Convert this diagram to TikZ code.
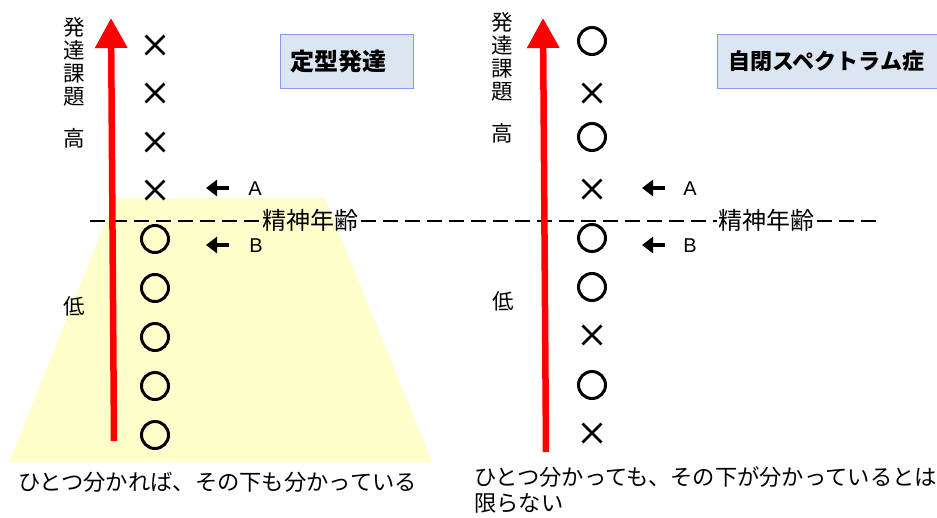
\documentclass[tikz,border=0pt]{standalone}
\usepackage{fontspec}
\setmainfont{Noto Sans CJK JP}
\newfontfamily\latinfont{Liberation Sans}
\usetikzlibrary{arrows.meta,shapes.misc}
\definecolor{trapfill}{HTML}{FFFFCC}
\definecolor{boxfill}{HTML}{DCE6F2}
\definecolor{boxline}{HTML}{8A98EC}
\definecolor{axisred}{HTML}{FF0000}
\tikzset{
  okmark/.style={circle, draw, line width=3, minimum size=27, inner sep=0pt},
  ngmark/.style={cross out, draw, line width=2.8, minimum size=16, inner sep=0pt},
  axisarrow/.style={axisred, line width=6.5, -{Triangle[width=31pt,length=30pt]}},
  pointer/.style={line width=4.5, -{Triangle[width=16pt,length=11pt]}},
  letterlbl/.style={font=\latinfont\fontsize{20}{20}\selectfont, inner sep=0pt},
  jplbl/.style={font=\fontsize{21.5}{23}\selectfont, inner sep=0pt, align=center},
  agelbl/.style={font=\fontsize{24}{24}\selectfont, inner sep=0pt},
  bottomlbl/.style={font=\fontsize{22.3}{26}\selectfont, inner sep=0pt, align=left},
  titlebox/.style={draw=boxline, fill=boxfill, line width=1.2, anchor=north west, inner sep=0pt},
  titletext/.style={font=\bfseries\fontsize{22}{24}\selectfont, inner sep=0pt, anchor=west},
  agedash/.style={line width=1.8, dash pattern=on 15pt off 7pt}
}
\begin{document}
\begin{tikzpicture}[x=1pt,y=-1pt]
\useasboundingbox (0,0) rectangle (937,517);

% yellow trapezoid
\fill[trapfill] (115,198) -- (325,198) -- (432,462) -- (9,462) -- cycle;

% mental age dashed line with labels
\node[agelbl] (ageL) at (310,220) {精神年齢};
\node[agelbl] (ageR) at (766,220) {精神年齢};
\coordinate (dashStart) at (90,221);
\coordinate (dashEnd) at (883,221);
\draw[agedash] (dashStart) -- ([xshift=-3pt]ageL.west |- dashStart);
\draw[agedash] ([xshift=3pt]ageL.east |- dashStart) -- ([xshift=-1pt]ageR.west |- dashStart);
\draw[agedash] ([xshift=3pt]ageR.east |- dashStart) -- (dashEnd);

% ===== left panel =====
\coordinate (axLbot) at (114,441);
\coordinate (axLtop) at (111,18);
\draw[axisarrow] (axLbot) -- (axLtop);

\node[jplbl] (taskL) at (74,62) {発\\達\\課\\題};
\node[jplbl] (highL) at (74,138) {高};
\node[jplbl] (lowL) at (74,306) {低};

\node[ngmark] (l1) at (155,45) {};
\node[ngmark] (l2) at (155,93) {};
\node[ngmark] (l3) at (155,142) {};
\node[ngmark] (l4) at (155,190) {};
\node[okmark] (l5) at (155,239) {};
\node[okmark] (l6) at (155,288) {};
\node[okmark] (l7) at (155,337) {};
\node[okmark] (l8) at (155,386) {};
\node[okmark] (l9) at (155,435) {};

\coordinate (pAs) at (229,188);
\coordinate (pAe) at (206,188);
\draw[pointer] (pAs) -- (pAe);
\node[letterlbl] (lA) at (255,189) {A};
\coordinate (pBs) at (229,245);
\coordinate (pBe) at (206,245);
\draw[pointer] (pBs) -- (pBe);
\node[letterlbl] (lB) at (256,246) {B};

\node[titlebox, minimum width=133, minimum height=54] (boxL) at (280,34) {};
\node[titletext, font=\bfseries\fontsize{24}{24}\selectfont] (titleL) at (290,61) {定型発達};

\node[bottomlbl, anchor=west] (textL) at (18,482) {ひとつ分かれば、その下も分かっている};

% ===== right panel =====
\coordinate (axRbot) at (546,452);
\coordinate (axRtop) at (543,18);
\draw[axisarrow] (axRbot) -- (axRtop);

\node[jplbl] (taskR) at (502,57) {発\\達\\課\\題};
\node[jplbl] (highR) at (502,133) {高};
\node[jplbl] (lowR) at (503,301) {低};

\node[okmark] (r1) at (592,41) {};
\node[ngmark] (r2) at (592,93) {};
\node[okmark] (r3) at (592,137) {};
\node[ngmark] (r4) at (592,189) {};
\node[okmark] (r5) at (592,238) {};
\node[okmark] (r6) at (592,287) {};
\node[ngmark] (r7) at (592,335) {};
\node[okmark] (r8) at (592,385) {};
\node[ngmark] (r9) at (592,433) {};

\coordinate (qAs) at (665,188);
\coordinate (qAe) at (642,188);
\draw[pointer] (qAs) -- (qAe);
\node[letterlbl] (rA) at (690,189) {A};
\coordinate (qBs) at (665,245);
\coordinate (qBe) at (642,245);
\draw[pointer] (qBs) -- (qBe);
\node[letterlbl] (rB) at (690,246) {B};

\node[titlebox, minimum width=222, minimum height=54] (boxR) at (717,34) {};
\node[titletext] (titleR) at (728,61) {自閉スペクトラム症};

\node[bottomlbl, anchor=north west] (textR) at (474,466) {ひとつ分かっても、その下が分かっているとは\\限らない};
\end{tikzpicture}
\end{document}
